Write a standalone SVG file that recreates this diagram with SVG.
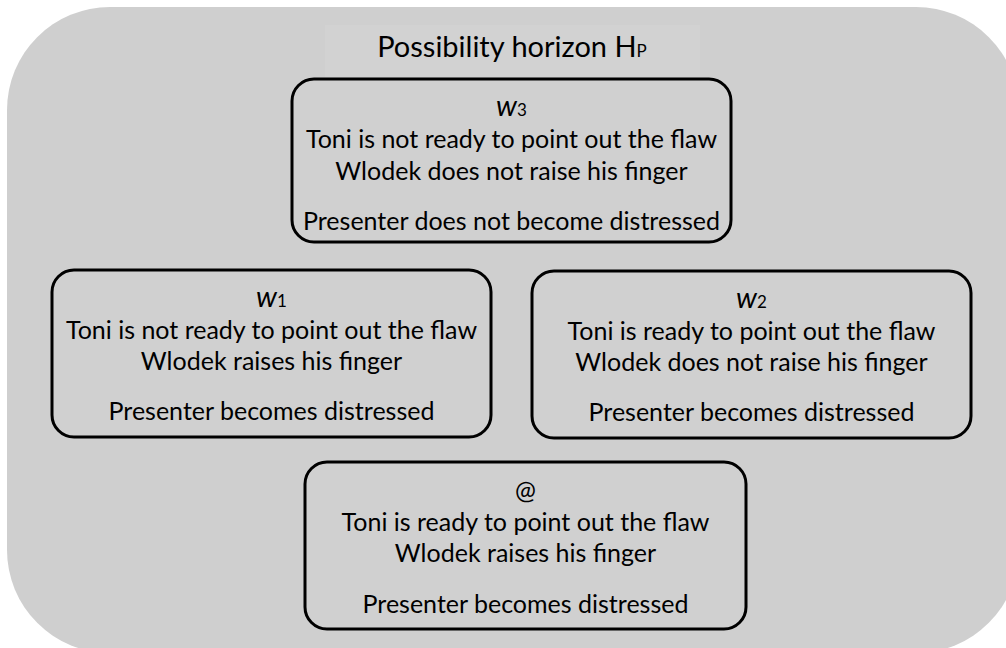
<svg xmlns="http://www.w3.org/2000/svg" width="1006" height="648" viewBox="0 0 1006 648">
  <style>
    .bg { fill: #cfcfcf; }
    .titlebg { fill: #d2d2d2; }
    .box { fill: #d0d0d0; stroke: #000000; stroke-width: 3; }
    text { font-family: "Lato", "Liberation Sans", sans-serif; fill: #000000; text-anchor: middle; }
    .t { font-size: 25px; }
    .title { font-size: 29px; }
    .lbl { font-size: 29px; font-style: italic; }
    .sub { font-size: 17px; font-style: normal; }
  </style>
  <rect class="bg" x="7" y="7" width="1012" height="646" rx="103" ry="103"/>
  <g id="title">
    <rect class="titlebg" x="325" y="25" width="375" height="52"/>
    <text class="title" x="512" y="57">Possibility horizon H<tspan class="sub">P</tspan></text>
  </g>
  <g id="connectors"/>
  <g id="w3">
    <rect class="box" x="292" y="79" width="439" height="163" rx="22" ry="22"/>
    <text class="lbl" x="511.5" y="116">w<tspan class="sub">3</tspan></text>
    <text class="t" x="511.5" y="148">Toni is not ready to point out the flaw</text>
    <text class="t" x="511.5" y="180">Wlodek does not raise his finger</text>
    <text class="t" x="511.5" y="230">Presenter does not become distressed</text>
  </g>
  <g id="w1">
    <rect class="box" x="52" y="270" width="439" height="167" rx="22" ry="22"/>
    <text class="lbl" x="271.5" y="307">w<tspan class="sub">1</tspan></text>
    <text class="t" x="271.5" y="339">Toni is not ready to point out the flaw</text>
    <text class="t" x="271.5" y="370">Wlodek raises his finger</text>
    <text class="t" x="271.5" y="420">Presenter becomes distressed</text>
  </g>
  <g id="w2">
    <rect class="box" x="532" y="271" width="439" height="167" rx="22" ry="22"/>
    <text class="lbl" x="751.5" y="308">w<tspan class="sub">2</tspan></text>
    <text class="t" x="751.5" y="340">Toni is ready to point out the flaw</text>
    <text class="t" x="751.5" y="371">Wlodek does not raise his finger</text>
    <text class="t" x="751.5" y="421">Presenter becomes distressed</text>
  </g>
  <g id="actual">
    <rect class="box" x="305" y="462" width="441" height="167" rx="22" ry="22"/>
    <text class="t" x="525.5" y="499">@</text>
    <text class="t" x="525.5" y="531">Toni is ready to point out the flaw</text>
    <text class="t" x="525.5" y="562">Wlodek raises his finger</text>
    <text class="t" x="525.5" y="613">Presenter becomes distressed</text>
  </g>
</svg>
